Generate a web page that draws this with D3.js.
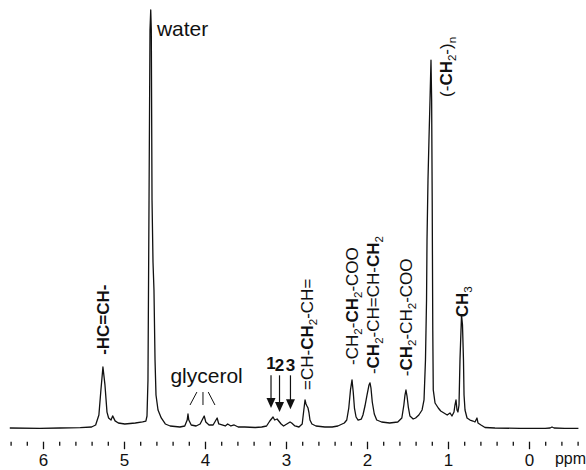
<!DOCTYPE html>
<html>
<head>
<meta charset="utf-8">
<script src="https://cdn.jsdelivr.net/npm/d3@7"></script>
<style>
  html, body { margin: 0; padding: 0; background: #fff; }
  svg { display: block; font-family: "Liberation Sans", Arial, sans-serif; }
</style>
</head>
<body>
<script>
// ---- data: [chemical shift (ppm), intensity (% of water peak)] ----
const spectrum = [
  [6.41,0],[6.04,-0.1],[5.79,0],[5.54,0.1],[5.40,0.24],[5.35,0.72],[5.31,3.1],[5.285,9.1],
  [5.26,14.6],[5.235,10.3],[5.21,3.8],[5.19,2.4],[5.16,1.9],[5.14,2.9],[5.11,1.7],[5.07,1.2],
  [4.99,0.96],[4.86,1.2],[4.77,1.44],[4.73,1.67],[4.716,2.87],[4.704,11.5],[4.691,54.5],
  [4.679,95.2],[4.670,100],[4.663,95.2],[4.654,54.5],[4.642,39.7],[4.630,33.0],[4.617,16.3],
  [4.605,7.9],[4.580,4.3],[4.54,2.4],[4.49,0.96],[4.43,0.48],[4.31,0.24],[4.25,0.48],
  [4.22,1.9],[4.21,3.35],[4.20,1.9],[4.17,0.72],[4.11,0.48],[4.06,0.96],[4.01,2.87],
  [3.99,1.44],[3.95,0.72],[3.90,0.72],[3.85,2.39],[3.83,0.96],[3.79,0.72],[3.75,0.48],
  [3.72,0.96],[3.68,0.48],[3.64,0.72],[3.59,0.24],[3.51,0.24],[3.38,0.12],[3.30,0.24],
  [3.24,0.48],[3.20,1.67],[3.16,2.63],[3.14,1.91],[3.11,2.15],[3.09,1.67],[3.06,0.96],
  [3.03,0.48],[2.99,0.96],[2.95,1.44],[2.93,1.2],[2.89,0.48],[2.84,0.24],[2.80,0.96],
  [2.78,4.3],[2.765,6.7],[2.753,5.74],[2.741,5.26],[2.728,4.78],[2.716,3.59],[2.704,1.91],
  [2.68,0.96],[2.63,0.48],[2.52,0.24],[2.43,0.24],[2.36,0.48],[2.28,1.2],[2.25,1.91],
  [2.225,4.78],[2.204,9.1],[2.185,11.5],[2.17,8.6],[2.155,4.78],[2.135,2.63],[2.11,1.91],
  [2.07,2.15],[2.05,3.11],[2.025,5.26],[2.00,7.89],[1.975,10.3],[1.963,10.8],[1.951,9.57],
  [1.935,6.22],[1.91,3.35],[1.88,1.91],[1.82,1.44],[1.72,1.2],[1.62,1.44],[1.57,2.39],
  [1.545,5.5],[1.531,7.89],[1.519,9.09],[1.506,7.65],[1.49,5.02],[1.47,2.87],[1.43,2.15],
  [1.40,2.39],[1.36,3.11],[1.32,4.31],[1.296,6.7],[1.278,16.3],[1.265,30.6],[1.259,45.0],
  [1.247,59.3],[1.235,68.9],[1.222,78.5],[1.210,88.0],[1.202,78.5],[1.195,54.5],[1.188,23.4],
  [1.182,9.1],[1.16,5.98],[1.12,4.78],[1.09,4.07],[1.05,3.59],[1.01,3.11],[0.975,3.59],
  [0.951,2.87],[0.926,3.83],[0.914,5.5],[0.901,6.7],[0.889,4.31],[0.877,3.83],[0.864,5.5],
  [0.852,16.3],[0.833,27.0],[0.821,24.6],[0.809,16.3],[0.802,7.89],[0.790,4.31],[0.765,2.39],
  [0.728,1.91],[0.691,1.67],[0.667,1.44],[0.642,2.39],[0.630,1.2],[0.593,0.72],[0.543,0.12],
  [0.42,0],[0.11,-0.1],[-0.20,-0.1],[-0.26,0],[-0.284,0.24],[-0.31,0],[-0.44,-0.1],[-0.61,-0.1]
];

const majorTicks = [6, 5, 4, 3, 2, 1, 0];
const minorTicks = [6.4, 6.2, 5.8, 5.6, 5.4, 5.2, 4.8, 4.6, 4.4, 4.2, 3.8, 3.6, 3.4, 3.2,
                    2.8, 2.6, 2.4, 2.2, 1.8, 1.6, 1.4, 1.2, 0.8, 0.6, 0.4, 0.2, -0.2, -0.4, -0.6];
const axisUnit = "ppm";

// rotated peak assignments: parts [text, style] (b = bold, n = normal, s = subscript)
const peakLabels = [
  { ppm: 5.26,  level: 17.5, parts: [["-HC=CH-", "b"]] },
  { ppm: 2.74,  level: 9.1,  parts: [["=CH-", "n"], ["CH", "b"], ["2", "s"], ["-CH=", "n"]] },
  { ppm: 2.185, level: 15.1, parts: [["-CH", "n"], ["2", "s"], ["-", "n"], ["CH", "b"], ["2", "s"], ["-COO", "n"]] },
  { ppm: 1.926, level: 12.9, parts: [["-", "n"], ["CH", "b"], ["2", "s"], ["-CH=CH-", "n"], ["CH", "b"], ["2", "s"]] },
  { ppm: 1.519, level: 12.4, parts: [["-", "n"], ["CH", "b"], ["2", "s"], ["-CH", "n"], ["2", "s"], ["-COO", "n"]] },
  { ppm: 1.03,  level: 79.2, parts: [["(-", "n"], ["CH", "b"], ["2", "s"], ["-)", "n"], ["n", "s"]] },
  { ppm: 0.827, level: 26.5, parts: [["CH", "b"], ["3", "s"]] }
];

const textLabels = [
  { text: "water",    ppm: 4.594, level: 93.8, anchor: "start" },
  { text: "glycerol", ppm: 3.98,  level: 10.8, anchor: "middle" }
];

// glycerol pointer lines [ppm top, ppm bottom]
const glycerolLines = [[4.10, 4.185], [4.025, 4.025], [3.96, 3.877]];
const glycerolTop = 8.6, glycerolBottom = 5.5;

// numbered arrows: ppm, tip level, label
const arrows = [
  { ppm: 3.185, tip: 4.8, label: "1", lab: 14.1 },
  { ppm: 3.08,  tip: 3.8, label: "2", lab: 13.6 },
  { ppm: 2.945, tip: 4.5, label: "3", lab: 13.6 }
];
const arrowTail = 12.6;

// ---- drawing ----
const W = 586, H = 470;
const svg = d3.select("body").append("svg").attr("width", W).attr("height", H);

const x = d3.scaleLinear().domain([6.4, -0.6]).range([10.6, 577.6]);
const y = d3.scaleLinear().domain([0, 100]).range([428, 10]);

svg.append("path")
  .datum(spectrum)
  .attr("d", d3.line().x(d => x(d[0])).y(d => y(d[1])))
  .attr("fill", "none")
  .attr("stroke", "#111")
  .attr("stroke-width", 1.3)
  .attr("stroke-linejoin", "round");

// axis
const axisY = 441.7;
const gMinor = svg.append("g").attr("transform", `translate(0,${axisY})`)
  .call(d3.axisBottom(x).tickValues(minorTicks).tickSize(4).tickFormat(""));
gMinor.select(".domain").remove();
const gMajor = svg.append("g").attr("transform", `translate(0,${axisY})`)
  .call(d3.axisBottom(x).tickValues(majorTicks).tickSize(7.5).tickPadding(5).tickFormat(d3.format("d")));
gMajor.select(".domain").remove();
svg.selectAll(".tick line").attr("stroke", "#111").attr("stroke-width", 1.3);
gMajor.selectAll(".tick text")
  .attr("font-size", 17)
  .attr("font-family", "Liberation Sans, Arial, sans-serif")
  .attr("fill", "#111");

svg.append("text")
  .attr("x", x(-0.32)).attr("y", 464)
  .attr("font-size", 16).attr("fill", "#111")
  .text(axisUnit);

// rotated labels
const FS = 17;
peakLabels.forEach(l => {
  const cx = x(l.ppm) + 0.716 * FS / 2;
  const t = svg.append("text")
    .attr("transform", `translate(${cx},${y(l.level)}) rotate(-90)`)
    .attr("font-size", FS)
    .attr("fill", "#111");
  let sub = false;
  l.parts.forEach(p => {
    const ts = t.append("tspan").text(p[0]);
    if (p[1] === "s") {
      ts.attr("font-size", FS * 0.68).attr("dy", 4);
      sub = true;
    } else {
      if (sub) { ts.attr("dy", -4); sub = false; }
      if (p[1] === "b") ts.attr("font-weight", "bold");
    }
  });
});

textLabels.forEach(l => {
  svg.append("text")
    .attr("x", x(l.ppm)).attr("y", y(l.level))
    .attr("text-anchor", l.anchor)
    .attr("font-size", 21)
    .attr("fill", "#111")
    .text(l.text);
});

glycerolLines.forEach(g => {
  svg.append("line")
    .attr("x1", x(g[0])).attr("y1", y(glycerolTop))
    .attr("x2", x(g[1])).attr("y2", y(glycerolBottom))
    .attr("stroke", "#111").attr("stroke-width", 1);
});

arrows.forEach(a => {
  const ax = x(a.ppm), tipY = y(a.tip), tailY = y(arrowTail);
  svg.append("line")
    .attr("x1", ax).attr("y1", tailY).attr("x2", ax).attr("y2", tipY - 8)
    .attr("stroke", "#111").attr("stroke-width", 1.2);
  svg.append("path")
    .attr("d", `M${ax - 4.5},${tipY - 10} L${ax + 4.5},${tipY - 10} L${ax},${tipY} Z`)
    .attr("fill", "#111");
  svg.append("text")
    .attr("x", ax).attr("y", y(a.lab))
    .attr("text-anchor", "middle")
    .attr("font-size", 17).attr("font-weight", "bold").attr("fill", "#111")
    .text(a.label);
});
</script>
</body>
</html>
